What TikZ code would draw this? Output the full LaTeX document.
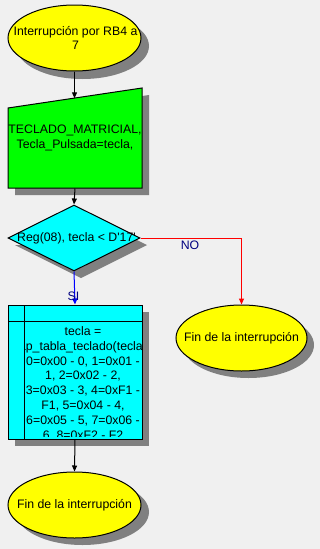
\documentclass[tikz,border=0pt]{standalone}
\usepackage{fontspec}
\setmainfont{Liberation Sans}
\usepackage{tikz}
\usetikzlibrary{arrows.meta, shapes, positioning}
\usepackage{xcolor}
\definecolor{fondo}{HTML}{F0F0F0}
\definecolor{sombra}{HTML}{808080}
\definecolor{amarillo}{HTML}{FFFF00}
\definecolor{verde}{HTML}{00FF00}
\definecolor{cian}{HTML}{00FFFF}
\definecolor{azuloscuro}{HTML}{000080}

\begin{document}
\begin{tikzpicture}[x=1pt, y=-1pt, line width=1pt,
  every node/.style={font=\fontsize{12.3}{14.8}\selectfont},
  terminal/.style={ellipse, draw, fill=amarillo, minimum width=133pt, minimum height=66pt, inner sep=0pt},
  decision/.style={diamond, draw, fill=cian, minimum width=132pt, minimum height=66pt, inner sep=0pt},
  texto/.style={align=center, inner sep=0pt},
  etiqueta/.style={text=azuloscuro, inner sep=0pt},
  flecha/.style={-{Triangle[width=5pt,length=6pt]}}]
  \useasboundingbox (0,0) rectangle (320,549);
  \fill[fondo] (0,0) rectangle (320,549);
  % shadows
  \fill[sombra] (82.5,46) ellipse [x radius=66.5pt, y radius=33pt];
  \fill[sombra] (15,115) -- (149,95) -- (149,195) -- (15,195) -- cycle;
  \fill[sombra] (81,245) -- (81,212) -- (147,245) -- (81,278) -- (15,245) -- cycle;
  \fill[sombra] (248.5,345) ellipse [x radius=65.5pt, y radius=33pt];
  \fill[sombra] (15,312) rectangle (149,446);
  \fill[sombra] (82.5,512) ellipse [x radius=66.5pt, y radius=33pt];
  % start
  \node[terminal] (inicio) at (74.5,38) {};
  \node[texto] (inicio-txt) at (75.5,38) {Interrupción por RB4 a\\7};
  % manual input
  \filldraw[fill=verde] (8,108) -- (142,88) -- (142,188) -- (8,188) -- cycle;
  \node[texto, minimum width=134pt, minimum height=100pt] (lectura) at (75,138)
    {TECLADO\_MATRICIAL,\\Tecla\_Pulsada=tecla,};
  \coordinate (entrada) at (74.5,98.3);
  % decision
  \node[decision] (cond) at (74,238) {};
  \node[texto] (cond-txt) at (76.5,238) {Reg(08), tecla < D\textquotesingle 17\textquotesingle};
  % subroutine
  \node[draw, fill=cian, minimum width=134pt, minimum height=134pt, inner sep=0pt] (proceso) at (75,372) {};
  \draw (24,305) -- (24,439);
  \draw (8,321) -- (142,321);
  \begin{scope}
    \clip (24.5,321.5) rectangle (141.5,436);
    \node[texto, anchor=north] (proceso-txt) at (83,326) {tecla =\\ap\_tabla\_teclado(tecla)\\0=0x00 - 0, 1=0x01 -\\1, 2=0x02 - 2,\\3=0x03 - 3, 4=0xF1 -\\F1, 5=0x04 - 4,\\6=0x05 - 5, 7=0x06 -\\6, 8=0xF2 - F2};
  \end{scope}
  % ends
  \node[terminal, minimum width=131pt] (fin1) at (241.5,338) {};
  \node[texto] (fin1-txt) at (fin1) {Fin de la interrupción};
  \node[terminal] (fin2) at (74.5,505) {};
  \node[texto] (fin2-txt) at (fin2) {Fin de la interrupción};
  % connectors
  \draw[flecha] (inicio.south) -- (entrada);
  \draw[flecha] (lectura.south) -- (cond.north);
  \draw[flecha, red] (cond.east) -| (fin1.north);
  \draw[flecha, blue] (cond.south) -- (proceso.north);
  \draw[flecha] (proceso.south) -- (fin2.north);
  % labels
  \node[etiqueta] (no) at (190,245) {NO};
  \node[etiqueta] (si) at (73.5,296) {SI};
\end{tikzpicture}
\end{document}
